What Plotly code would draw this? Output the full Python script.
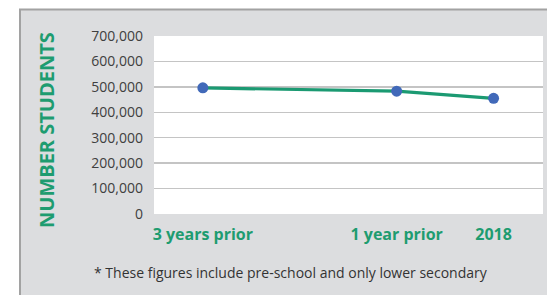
import plotly.graph_objects as go

# Data
periods = ["3 years prior", "1 year prior", "2018"]
years_offset = [-3, -1, 0]
students = [496000, 483000, 455000]
y_ticks = [0, 100000, 200000, 300000, 400000, 500000, 600000, 700000]
y_tick_labels = ["0", "100,000", "200,000", "300,000", "400,000", "500,000", "600,000", "700,000"]

GREEN = "#1e9c70"
LINE_GREEN = "#1b9a72"
BLUE = "#4169b9"
PANEL = "#dcdddf"

W, H = 547, 295
ML, MR, MT, MB = 154, 4, 36, 81
pw = W - ML - MR
ph = H - MT - MB

def px_x(px):
    return (px - ML) / pw

def px_y(py):
    return (H - MB - py) / ph

fig = go.Figure()
fig.add_trace(go.Scatter(
    x=years_offset, y=students, mode="lines+markers",
    line=dict(color=LINE_GREEN, width=3.2),
    marker=dict(color=BLUE, size=11),
    hoverinfo="skip", showlegend=False,
))

fig.update_layout(
    width=W, height=H,
    margin=dict(l=ML, r=MR, t=MT, b=MB, pad=0),
    paper_bgcolor="white",
    plot_bgcolor="rgba(0,0,0,0)",
    font=dict(family="Open Sans", color="#404040"),
    xaxis=dict(
        range=[-3.504, 0.51],
        tickvals=years_offset, ticktext=periods,
        showgrid=False, zeroline=False, showline=False, ticks="",
        ticklabelstandoff=9,
        tickfont=dict(family="Open Sans", size=16, color=GREEN, weight="bold"),
        fixedrange=True,
    ),
    yaxis=dict(
        range=[0, 700000],
        tickvals=y_ticks, ticktext=y_tick_labels,
        showgrid=True, gridcolor="#c4c4c4", gridwidth=1.3,
        zeroline=False, showline=False, ticks="",
        ticklabelstandoff=10,
        tickfont=dict(family="Open Sans", size=14, color="#404040"),
        fixedrange=True,
    ),
    shapes=[
        dict(type="rect", xref="paper", yref="paper", layer="below",
             x0=px_x(20), x1=px_x(560), y0=px_y(310), y1=px_y(9.5),
             fillcolor=PANEL, line=dict(color="#a2a2a2", width=2)),
        dict(type="rect", xref="paper", yref="paper", layer="below",
             x0=0, x1=1, y0=0, y1=1, fillcolor="white", line=dict(width=0)),
    ],
    annotations=[
        dict(text="<b>NUMBER STUDENTS</b>", xref="paper", yref="paper",
             x=px_x(46), y=px_y(130), textangle=-90, showarrow=False,
             xanchor="center", yanchor="middle",
             font=dict(family="Open Sans", size=20, color=GREEN)),
        dict(text="* These figures include pre-school and only lower secondary",
             xref="paper", yref="paper", x=px_x(291), y=px_y(272),
             showarrow=False, xanchor="center", yanchor="middle",
             font=dict(family="Open Sans", size=14, color="#333333")),
    ],
)

fig.write_html(
    "out.html",
    config={"displayModeBar": False, "staticPlot": True},
    post_script="document.body.style.margin='0';document.body.style.padding='0';"
                "document.body.style.overflow='hidden';"
                "document.documentElement.style.overflow='hidden';",
)
